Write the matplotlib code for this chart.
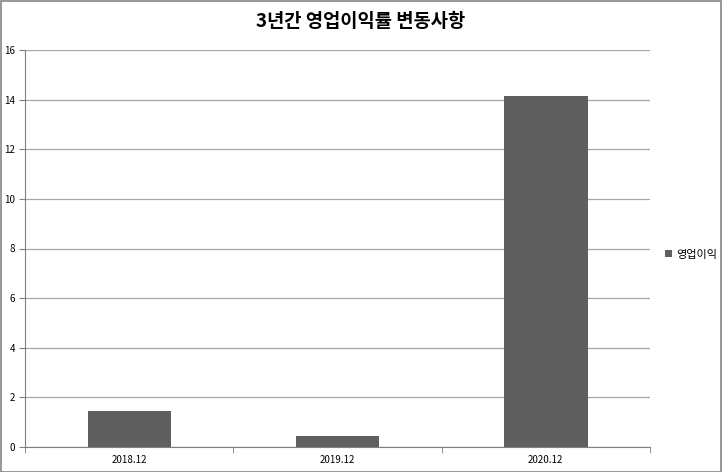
import numpy as np
import matplotlib.pyplot as plt
from matplotlib.patches import Rectangle

plt.rcParams['font.family'] = ['Noto Sans CJK KR', 'DejaVu Sans']

# data
categories = ["2018.12", "2019.12", "2020.12"]
values = [1.45, 0.44, 14.15]
series_name = "영업이익"
title = "3년간 영업이익률 변동사항"

fig = plt.figure(figsize=(7.22, 4.72), dpi=100)
ax = fig.add_axes([25 / 722, 25 / 472, 625 / 722, 397 / 472])

x = np.arange(len(categories))
ax.bar(x, values, width=0.4, color="#5f5f5f", label=series_name, zorder=3)

ax.set_xlim(-0.5, len(categories) - 0.5)
ax.set_ylim(0, 16)
ax.set_yticks(np.arange(0, 17, 2))
ax.set_xticks(x)
ax.set_xticklabels(categories)
ax.set_xticks(np.arange(-0.5, len(categories), 1), minor=True)
ax.tick_params(axis="x", which="major", length=0, labelsize=7, pad=6)
ax.tick_params(axis="x", which="minor", length=4, color="#808080")
ax.tick_params(axis="y", length=4, color="#808080", labelsize=7, pad=3)

ax.grid(axis="y", color="#a6a6a6", linewidth=0.9, zorder=0)
for side in ["top", "right"]:
    ax.spines[side].set_visible(False)
ax.spines["left"].set_color("#808080")
ax.spines["bottom"].set_color("#808080")

fig.suptitle(title, x=0.5, y=0.975, fontsize=13.5, fontweight="bold")

ax.legend(loc="center left", bbox_to_anchor=(640 / 625, 0.484), frameon=False,
          fontsize=8, handlelength=0.6, handleheight=0.6, handletextpad=0.4,
          borderpad=0, borderaxespad=0)

# outer chart border
fig.patches.append(Rectangle((0.001, 0.001), 0.997, 0.997, transform=fig.transFigure,
                             fill=False, edgecolor="#868686", linewidth=1.2))

plt.savefig("out.png", dpi=100)
